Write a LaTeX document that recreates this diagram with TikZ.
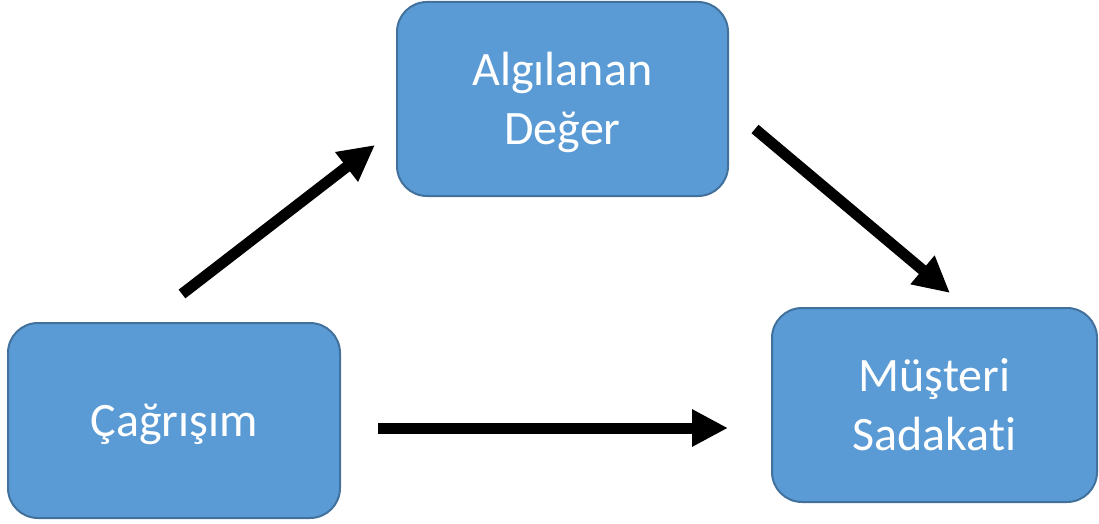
\documentclass[tikz,border=0pt]{standalone}
\usepackage{fontspec}
\setmainfont{Carlito}[RawFeature=-liga]
\usetikzlibrary{arrows.meta}
\definecolor{boxfill}{HTML}{5B9BD5}
\definecolor{boxline}{HTML}{41719C}
\newcommand{\txtdown}[1]{\raisebox{-4pt}[\height][\depth]{\begin{tabular}{@{}c@{}}#1\end{tabular}}}
\begin{document}
\begin{tikzpicture}[x=1pt,y=-1pt,
  box/.style={draw=boxline, fill=boxfill, line width=2pt, rounded corners=30pt,
    text=white, align=center, inner sep=0pt,
    font=\fontsize{48}{59}\selectfont},
  bigarrow/.style={line width=11pt, -{Triangle[length=36pt,width=35pt]}}]
\useasboundingbox (0,0) rectangle (1099,524);
\node[box, minimum width=331pt, minimum height=194pt] (alg) at (562.5,99) {\txtdown{Algılanan\\Değer}};
\node[box, minimum width=332pt, minimum height=195pt] (cag) at (174,420.5) {\txtdown{Çağrışım}};
\node[box, minimum width=325pt, minimum height=194pt] (mus) at (934.5,405) {\txtdown{Müşteri\\Sadakati}};
\coordinate (a1s) at (182,294);
\coordinate (a1e) at (375,145);
\coordinate (a2s) at (755,129);
\coordinate (a2e) at (950,293);
\coordinate (a3s) at (378,428);
\coordinate (a3e) at (728,428);
\draw[bigarrow] (a1s) -- (a1e);
\draw[bigarrow] (a2s) -- (a2e);
\draw[bigarrow] (a3s) -- (a3e);
\end{tikzpicture}
\end{document}
